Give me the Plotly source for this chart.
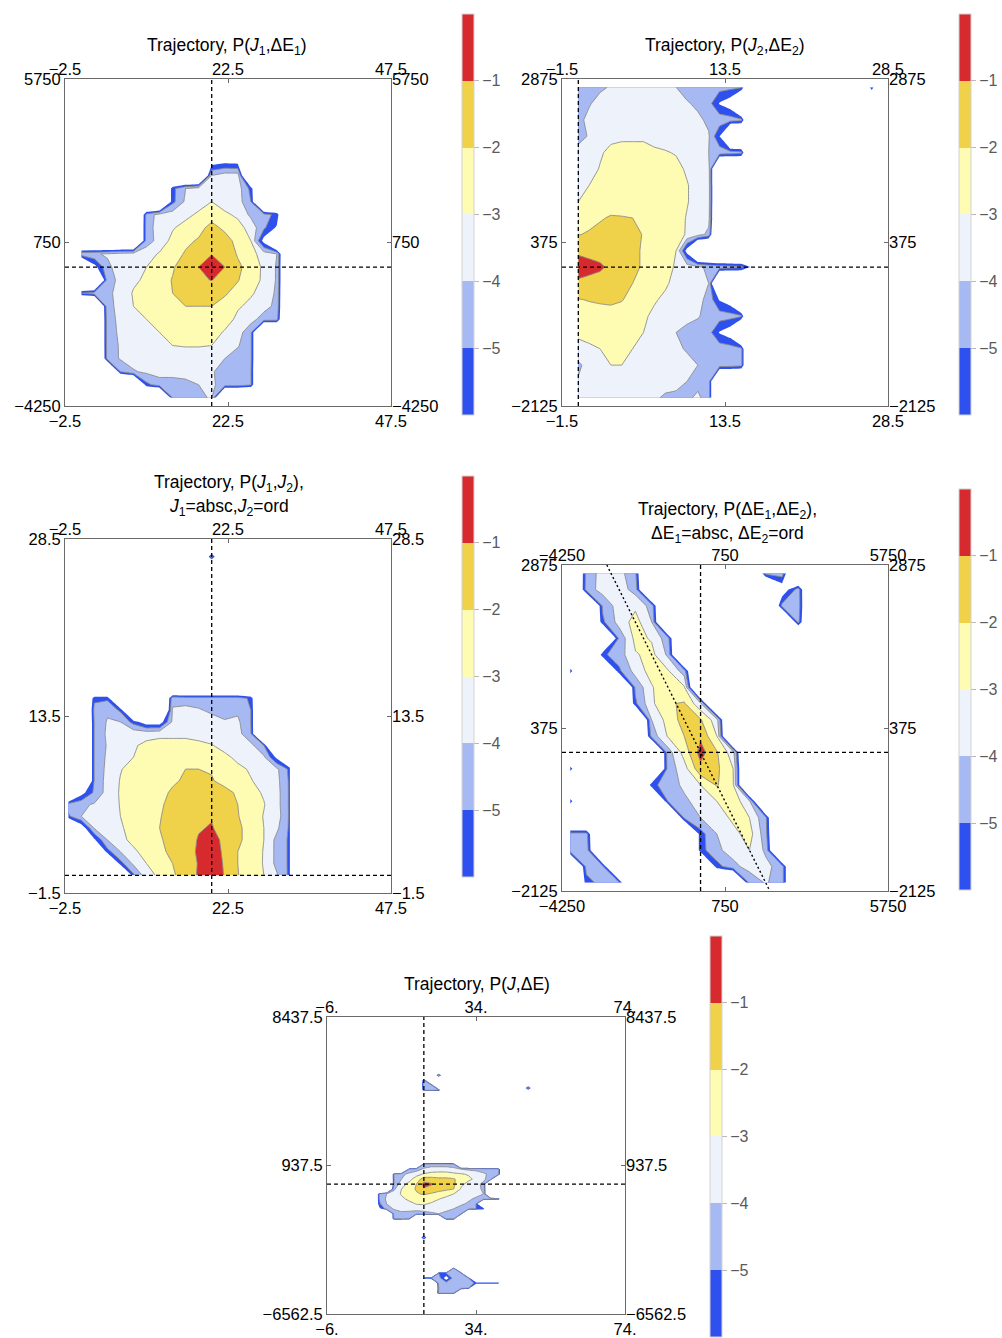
import plotly.graph_objects as go

# ------------------------------------------------------------------
# DATA  (values are -log10 P; 8 = no counts)
# ------------------------------------------------------------------
# Panel 1 : P(J1, dE1)
p1_J = [0, 2, 4, 6, 8, 10, 12, 14, 16, 18, 20, 22, 24, 26, 28, 30, 32]
p1_E = [3200, 2800, 2400, 2000, 1600, 1200, 800, 400, 0, -400, -800, -1200,
        -1600, -2000, -2400, -2800, -3200, -3600, -4000]
p1_d = [
    [8, 8, 8, 8, 8, 8, 8, 8, 8, 8, 6.5, 6.2, 6.3, 8, 8, 8, 8],
    [8, 8, 8, 8, 8, 8, 8, 8, 8, 8, 4.0, 3.5, 3.5, 8, 8, 8, 8],
    [8, 8, 8, 8, 8, 8, 8, 5.3, 4.0, 3.5, 3.5, 3.5, 3.5, 5.3, 8, 8, 8],
    [8, 8, 8, 8, 8, 8, 8, 5.3, 3.8, 3.5, 3.0, 3.5, 3.5, 5.0, 8, 8, 8],
    [8, 8, 8, 8, 8, 4.6, 3.6, 3.5, 3.3, 2.8, 2.4, 2.8, 3.2, 4.2, 4.6, 5.3, 8],
    [8, 8, 8, 8, 8, 4.5, 3.5, 3.1, 2.6, 2.3, 1.7, 2.2, 2.6, 3.4, 4.8, 6.2, 8],
    [8, 8, 8, 8, 8, 4.5, 3.6, 2.7, 2.2, 1.9, 1.3, 1.6, 2.3, 3.0, 6.5, 8, 8],
    [4.2, 4.1, 3.9, 3.6, 3.5, 3.4, 2.9, 2.4, 1.9, 1.2, 1.05, 1.3, 2.1, 2.6, 3.5, 4.0, 8],
    [8, 6.5, 4.2, 3.6, 3.3, 3.0, 2.6, 2.1, 1.5, 1.0, 0.3, 1.0, 1.8, 2.4, 3.2, 4.1, 8],
    [8, 8, 4.5, 3.7, 3.2, 2.8, 2.4, 1.95, 1.4, 1.1, 0.98, 1.3, 1.95, 2.5, 3.2, 4.1, 8],
    [5.0, 4.6, 4.2, 3.7, 2.9, 2.6, 2.2, 2.0, 1.6, 1.5, 1.5, 1.9, 2.3, 2.9, 3.3, 4.2, 8],
    [8, 8, 4.3, 3.7, 3.0, 2.7, 2.4, 2.1, 2.0, 2.0, 2.0, 2.3, 2.9, 3.2, 3.6, 4.3, 8],
    [8, 8, 4.5, 3.7, 3.4, 3.0, 2.6, 2.5, 2.4, 2.4, 2.4, 2.6, 3.2, 3.6, 4.5, 4.6, 8],
    [8, 8, 4.5, 3.8, 3.5, 3.2, 3.0, 2.8, 2.6, 2.6, 2.6, 3.1, 3.5, 4.8, 8, 8, 8],
    [8, 8, 4.5, 3.9, 3.6, 3.4, 3.1, 3.0, 2.95, 2.95, 3.0, 3.4, 3.9, 4.8, 8, 8, 8],
    [8, 8, 4.6, 3.9, 3.6, 3.5, 3.5, 3.4, 3.4, 3.4, 3.6, 4.0, 4.5, 4.8, 8, 8, 8],
    [8, 8, 8, 5.0, 4.1, 3.8, 3.6, 3.6, 3.6, 3.6, 3.9, 4.4, 4.5, 4.9, 8, 8, 8],
    [8, 8, 8, 8, 8, 5.3, 4.5, 4.5, 4.3, 4.0, 3.8, 4.5, 4.5, 4.9, 8, 8, 8],
    [8, 8, 8, 8, 8, 8, 8, 5.0, 4.5, 4.2, 3.9, 8, 8, 8, 8, 8, 8],
]

# Panel 2 : P(J2, dE2)
p2_J = [0, 1, 2, 3, 4, 5, 6, 7, 8, 9, 10, 11, 12, 13, 14, 15, 16]
p2_E = [2750, 2500, 2250, 2000, 1750, 1500, 1250, 1000, 750, 500, 250, 0,
        -250, -500, -750, -1000, -1250, -1500, -1750, -2000]
p2_d = [
    [4.5, 4.5, 4.2, 3.9, 3.5, 3.5, 3.5, 3.5, 3.5, 4.0, 4.4, 4.5, 4.6, 4.6, 4.7, 4.8, 8],
    [4.6, 4.1, 3.6, 3.5, 3.5, 3.5, 3.5, 3.5, 3.5, 3.6, 3.9, 4.2, 4.6, 6.1, 6.8, 8, 8],
    [4.3, 3.7, 3.5, 3.5, 3.5, 3.5, 3.5, 3.5, 3.5, 3.5, 3.6, 3.8, 4.2, 4.4, 4.5, 4.7, 8],
    [4.4, 3.9, 3.4, 3.2, 3.1, 3.1, 3.1, 3.2, 3.3, 3.4, 3.5, 3.6, 3.9, 6.0, 8, 8, 8],
    [3.6, 3.4, 3.1, 2.8, 2.8, 2.8, 2.8, 2.9, 2.95, 3.05, 3.4, 3.5, 4.0, 4.4, 4.5, 4.7, 8],
    [3.5, 3.3, 2.95, 2.7, 2.6, 2.6, 2.6, 2.6, 2.6, 2.8, 3.1, 3.4, 3.6, 8, 8, 8, 8],
    [3.4, 3.0, 2.7, 2.6, 2.5, 2.5, 2.5, 2.5, 2.5, 2.6, 2.95, 3.3, 3.5, 8, 8, 8, 8],
    [3.0, 2.8, 2.6, 2.5, 2.4, 2.4, 2.4, 2.4, 2.5, 2.6, 2.95, 3.3, 3.5, 8, 8, 8, 8],
    [2.5, 2.3, 2.1, 1.9, 1.95, 2.0, 2.2, 2.35, 2.5, 2.7, 3.05, 3.4, 3.6, 8, 8, 8, 8],
    [2.05, 1.9, 1.7, 1.6, 1.6, 1.75, 2.05, 2.3, 2.45, 2.6, 3.1, 3.5, 4.3, 8, 8, 8, 8],
    [1.2, 1.3, 1.4, 1.5, 1.6, 1.8, 2.1, 2.3, 2.6, 3.0, 6.5, 8, 8, 8, 8, 8, 8],
    [0.5, 0.7, 0.85, 1.2, 1.5, 1.8, 2.1, 2.4, 2.7, 3.1, 3.5, 3.8, 4.2, 4.5, 4.6, 4.8, 6.3],
    [1.2, 1.3, 1.4, 1.6, 1.75, 2.0, 2.3, 2.6, 2.85, 3.3, 3.5, 3.6, 4.0, 8, 8, 8, 8],
    [2.05, 1.95, 1.9, 1.85, 1.95, 2.3, 2.6, 2.9, 3.2, 3.5, 3.5, 3.7, 4.3, 6.1, 6.8, 8, 8],
    [2.4, 2.4, 2.3, 2.3, 2.4, 2.6, 2.85, 3.2, 3.5, 3.5, 3.6, 3.9, 4.4, 4.5, 4.6, 4.8, 8],
    [2.8, 2.6, 2.5, 2.5, 2.6, 2.8, 3.0, 3.3, 3.5, 4.0, 4.4, 4.5, 4.6, 6.1, 6.8, 8, 8],
    [3.3, 3.2, 3.0, 2.8, 2.8, 3.0, 3.3, 3.5, 3.5, 3.8, 4.1, 4.4, 4.5, 4.4, 4.5, 4.7, 8],
    [4.2, 3.6, 3.3, 3.0, 3.0, 3.3, 3.5, 3.5, 3.5, 3.5, 3.7, 4.0, 4.5, 4.4, 4.5, 4.7, 8],
    [3.9, 3.5, 3.5, 3.5, 3.5, 3.5, 3.5, 3.5, 3.5, 3.6, 4.0, 4.3, 4.5, 8, 8, 8, 8],
    [3.6, 3.5, 3.5, 3.5, 3.5, 3.5, 3.5, 3.8, 4.2, 4.3, 4.2, 3.8, 4.5, 8, 8, 8, 8],
]
p2b_J = [26, 27, 28]
p2b_E = [2750, 2500]
p2b_d = [[8, 5.0, 8], [8, 8, 8]]

# Panel 3 : P(J1, J2)
p3_J1 = [-2, 0, 2, 4, 6, 8, 10, 12, 14, 16, 18, 20, 22, 24, 26, 28, 30, 32]
p3_J2 = [16, 15, 14, 13, 12, 11, 10, 9, 8, 7, 6, 5, 4, 3, 2, 1, 0]
p3_d = [
    [8, 8, 8, 8, 8, 8, 8, 8, 8, 8, 8, 8, 8, 8, 8, 8, 8, 8],
    [8, 8, 5.2, 5.2, 8, 8, 8, 8, 4.3, 4.5, 4.5, 4.5, 4.5, 4.5, 5.2, 8, 8, 8],
    [8, 8, 4.7, 4.2, 5.2, 8, 8, 8, 3.9, 3.7, 3.9, 4.2, 4.4, 4.2, 5.0, 8, 8, 8],
    [8, 8, 4.9, 3.9, 4.0, 5.4, 6.8, 6.8, 3.8, 3.5, 3.5, 3.6, 3.9, 3.8, 5.0, 8, 8, 8],
    [8, 8, 4.9, 3.8, 3.6, 3.3, 3.3, 3.2, 3.2, 3.2, 3.3, 3.4, 3.5, 3.6, 4.9, 8, 8, 8],
    [8, 8, 4.9, 3.9, 3.5, 3.1, 2.8, 2.7, 2.7, 2.7, 2.8, 2.95, 3.3, 3.5, 3.7, 5.0, 8, 8],
    [8, 8, 4.9, 3.8, 3.4, 3.0, 2.6, 2.5, 2.4, 2.3, 2.4, 2.5, 2.8, 3.2, 3.5, 3.8, 6.3, 8],
    [8, 8, 4.9, 3.7, 3.05, 2.7, 2.4, 2.2, 2.15, 2.0, 2.0, 2.05, 2.4, 2.8, 3.1, 3.5, 3.8, 5.3],
    [8, 8, 4.9, 3.6, 2.95, 2.6, 2.4, 2.2, 2.05, 1.95, 1.9, 1.95, 2.2, 2.6, 2.95, 3.3, 3.7, 5.2],
    [8, 6.5, 4.8, 3.6, 2.9, 2.5, 2.3, 2.1, 1.95, 1.7, 1.6, 1.6, 1.8, 2.1, 2.7, 3.1, 3.6, 5.2],
    [4.5, 4.2, 3.9, 3.5, 2.95, 2.5, 2.3, 2.1, 1.8, 1.5, 1.3, 1.3, 1.6, 2.0, 2.5, 2.95, 3.6, 5.2],
    [5.2, 4.0, 3.6, 3.3, 3.0, 2.6, 2.3, 2.05, 1.7, 1.4, 1.1, 1.05, 1.4, 1.95, 2.5, 3.05, 3.5, 5.2],
    [8, 7.0, 3.9, 3.4, 3.1, 2.7, 2.4, 2.0, 1.6, 1.3, 1.05, 0.95, 1.3, 1.8, 2.4, 3.0, 3.8, 5.2],
    [8, 8, 6.2, 4.0, 3.2, 2.8, 2.5, 2.1, 1.7, 1.3, 0.95, 0.7, 1.2, 1.8, 2.4, 3.0, 4.3, 5.2],
    [8, 8, 8, 5.4, 4.0, 3.15, 2.7, 2.2, 1.8, 1.3, 0.9, 0.6, 1.15, 2.0, 2.5, 3.05, 4.3, 5.2],
    [8, 8, 8, 8, 5.4, 3.8, 3.0, 2.5, 2.0, 1.4, 0.95, 0.5, 1.1, 2.0, 2.6, 3.05, 4.3, 5.2],
    [8, 8, 8, 8, 8, 5.2, 3.4, 2.8, 2.15, 1.5, 0.9, 0.5, 1.05, 1.95, 2.6, 3.0, 3.9, 5.3],
]
p3b_J1 = [18, 20, 22]
p3b_J2 = [28, 27, 26]
p3b_d = [[8, 8, 8], [8, 4.5, 8], [8, 8, 8]]

# Panel 4 : P(dE1, dE2)
p4_E1 = [-4000, -3500, -3000, -2500, -2000, -1500, -1000, -500, 0, 500, 1000,
         1500, 2000, 2500, 3000, 3500]
p4_E2 = [2750, 2500, 2250, 2000, 1750, 1500, 1250, 1000, 750, 500, 250, 0,
         -250, -500, -750, -1000, -1250, -1500, -1750, -2000]
p4_d = [
    [8, 4.6, 3.6, 3.6, 4.8, 8, 8, 8, 8, 8, 8, 8, 4.6, 4.4, 8, 8],
    [8, 4.5, 3.6, 3.5, 4.4, 8, 8, 8, 8, 8, 8, 8, 8, 7.0, 4.5, 8],
    [8, 8, 4.8, 3.5, 3.2, 4.4, 8, 8, 8, 8, 8, 8, 8, 4.7, 4.4, 8],
    [8, 8, 5.2, 3.6, 2.6, 4.0, 8, 8, 8, 8, 8, 8, 8, 8, 4.7, 8],
    [8, 8, 8, 4.8, 2.7, 3.1, 4.6, 8, 8, 8, 8, 8, 8, 8, 8, 8],
    [8, 8, 5.2, 4.5, 3.1, 2.7, 4.2, 8, 8, 8, 8, 8, 8, 8, 8, 8],
    [5.2, 8, 8, 5.2, 3.6, 2.6, 2.9, 4.5, 8, 8, 8, 8, 8, 8, 8, 8],
    [8, 8, 8, 8, 4.8, 3.1, 2.2, 2.9, 8, 8, 8, 8, 8, 8, 8, 8],
    [8, 8, 8, 8, 5.2, 3.2, 2.1, 1.9, 3.8, 8, 8, 8, 8, 8, 8, 8],
    [8, 8, 8, 8, 8, 4.0, 2.6, 1.6, 1.9, 3.6, 8, 8, 8, 8, 8, 8],
    [8, 8, 8, 8, 8, 4.6, 2.9, 2.0, 1.2, 3.0, 8, 8, 8, 8, 8, 8],
    [8, 8, 8, 8, 8, 8, 4.5, 2.6, 0.6, 1.9, 3.6, 8, 8, 8, 8, 8],
    [5.2, 8, 8, 8, 8, 8, 4.6, 3.4, 1.3, 1.8, 3.0, 8, 8, 8, 8, 8],
    [8, 8, 8, 8, 8, 5.3, 4.5, 3.8, 3.0, 1.9, 2.9, 8, 8, 8, 8, 8],
    [5.2, 8, 8, 8, 8, 8, 5.0, 4.2, 3.6, 3.0, 2.4, 3.8, 8, 8, 8, 8],
    [8, 8, 8, 8, 8, 8, 8, 4.8, 4.0, 3.5, 2.8, 3.0, 4.8, 8, 8, 8],
    [4.6, 4.6, 8, 8, 8, 8, 8, 8, 5.4, 4.0, 3.3, 2.6, 4.6, 8, 8, 8],
    [4.4, 4.3, 8, 8, 8, 8, 8, 8, 5.4, 4.2, 3.6, 3.0, 4.2, 8, 8, 8],
    [8, 4.6, 4.8, 8, 8, 8, 8, 8, 8, 5.4, 4.3, 3.6, 3.7, 4.5, 8, 8],
    [8, 5.4, 4.6, 4.8, 8, 8, 8, 8, 8, 8, 8, 4.8, 3.9, 4.5, 8, 8],
]

# Panel 5 : P(J, dE)
p5_J = [6, 8, 10, 12, 14, 16, 18, 20, 22, 24, 26, 28, 30, 32, 34, 36, 38, 40, 42]
p5_E = [1250, 1000, 750, 500, 250, 0, -250, -500, -750, -1000, -1250, -1500,
        -1750, -2000]
p5_d = [
    [8, 8, 8, 8, 8, 8, 8, 8, 8, 8, 8, 8, 8, 8, 8, 8, 8, 8, 8],
    [8, 8, 8, 8, 8, 8, 8, 4.8, 4.5, 4.5, 4.5, 4.8, 8, 8, 8, 8, 8, 8, 8],
    [8, 8, 8, 8, 8, 5.0, 4.5, 3.8, 3.5, 3.5, 3.5, 3.6, 4.0, 4.2, 4.3, 4.5, 4.5, 4.6, 8],
    [8, 8, 8, 4.9, 4.3, 3.7, 3.3, 2.9, 2.7, 2.6, 2.6, 2.8, 2.9, 3.1, 3.4, 3.8, 4.3, 4.6, 8],
    [8, 8, 8, 5.0, 4.0, 3.3, 2.6, 1.5, 1.6, 1.8, 1.8, 1.9, 2.4, 2.8, 3.2, 3.7, 4.8, 8, 8],
    [8, 8, 8, 5.0, 3.3, 2.8, 2.0, 0.7, 0.9, 1.5, 1.6, 1.8, 2.8, 3.3, 3.6, 4.3, 8, 8, 8],
    [8, 8, 8, 4.2, 3.0, 2.4, 1.9, 1.1, 1.4, 1.7, 1.8, 2.0, 3.1, 3.5, 3.6, 4.2, 8, 8, 8],
    [8, 5.0, 4.0, 3.5, 2.9, 2.5, 2.1, 1.9, 2.1, 2.3, 2.6, 3.0, 3.4, 3.6, 3.6, 4.0, 8, 8, 8],
    [8, 5.0, 3.8, 3.5, 3.2, 2.8, 2.6, 2.5, 2.7, 2.95, 3.3, 3.5, 3.6, 3.8, 4.2, 4.5, 4.6, 5.0, 8],
    [8, 5.2, 4.0, 3.6, 3.5, 3.3, 2.95, 2.9, 3.1, 3.4, 3.5, 3.6, 3.8, 4.2, 5.0, 8, 8, 8, 8],
    [8, 6.5, 4.5, 3.9, 3.6, 3.5, 3.5, 3.5, 3.5, 3.6, 3.8, 4.0, 4.5, 4.8, 5.0, 5.2, 8, 8, 8],
    [8, 8, 8, 4.6, 4.3, 4.5, 4.8, 4.5, 4.2, 4.0, 4.2, 4.5, 5.0, 8, 8, 8, 8, 8, 8],
    [8, 8, 8, 4.8, 4.7, 4.9, 8, 8, 8, 8, 4.7, 4.8, 8, 8, 8, 8, 8, 8, 8],
    [8, 8, 8, 8, 8, 8, 8, 8, 8, 8, 8, 8, 8, 8, 8, 8, 8, 8, 8],
]
p5t_J = [18, 20, 22, 24, 26]
p5t_E = [5750, 5500, 5250, 5000, 4750, 4500]
p5t_d = [
    [8, 8, 8, 8, 8],
    [8, 8, 8, 3.8, 8],
    [8, 4.9, 8, 8, 8],
    [8, 4.3, 4.8, 8, 8],
    [8, 4.8, 4.6, 4.9, 8],
    [8, 8, 8, 8, 8],
]
p5r_J = [45, 48, 51]
p5r_E = [5250, 4850, 4450]
p5r_d = [[8, 8, 8], [8, 4.5, 8], [8, 8, 8]]
p5m_J = [17, 20, 23]
p5m_E = [-2250, -2700, -3150]
p5m_d = [[8, 8, 8], [8, 4.5, 8], [8, 8, 8]]
p5b_J = [18, 20, 22, 24, 26, 28, 30, 32, 34, 36, 38, 40, 42]
p5b_E = [-4000, -4250, -4500, -4750, -5000, -5250, -5500, -5750]
p5b_d = [
    [8, 8, 8, 8, 8, 8, 8, 8, 8, 8, 8, 8, 8],
    [8, 8, 8, 8, 8, 5.0, 8, 8, 8, 8, 8, 8, 8],
    [8, 8, 8, 5.0, 5.0, 4.4, 4.9, 8, 8, 8, 8, 8, 8],
    [8, 5.2, 5.0, 4.4, 6.8, 4.5, 4.6, 5.0, 8, 8, 8, 8, 8],
    [8, 8, 8, 4.6, 4.6, 4.4, 4.3, 4.5, 5.2, 5.2, 5.2, 5.2, 8],
    [8, 8, 8, 5.0, 4.5, 4.4, 4.5, 4.9, 8, 8, 8, 8, 8],
    [8, 8, 8, 4.7, 4.5, 4.7, 8, 8, 8, 8, 8, 8, 8],
    [8, 8, 8, 8, 8, 8, 8, 8, 8, 8, 8, 8, 8],
]

# axes ranges and tick labels
panels = [
    dict(xr=[-2.5, 47.5], yr=[-4250, 5750], xt=["−2.5", "22.5", "47.5"], yt=["−4250", "750", "5750"]),
    dict(xr=[-1.5, 28.5], yr=[-2125, 2875], xt=["−1.5", "13.5", "28.5"], yt=["−2125", "375", "2875"]),
    dict(xr=[-2.5, 47.5], yr=[-1.5, 28.5], xt=["−2.5", "22.5", "47.5"], yt=["−1.5", "13.5", "28.5"]),
    dict(xr=[-4250, 5750], yr=[-2125, 2875], xt=["−4250", "750", "5750"], yt=["−2125", "375", "2875"]),
    dict(xr=[-6, 74], yr=[-6562.5, 8437.5], xt=["−6.", "34.", "74."], yt=["−6562.5", "937.5", "8437.5"]),
]
# reference (dashed) lines : (x value, y value)
ref_lines = [(20, 0), (0, 0), (20, 0), (0, 0), (20, 0)]
titles = [
    ["Trajectory, P(<i>J</i><sub>1</sub>,ΔE<sub>1</sub>)"],
    ["Trajectory, P(<i>J</i><sub>2</sub>,ΔE<sub>2</sub>)"],
    ["Trajectory, P(<i>J</i><sub>1</sub>,<i>J</i><sub>2</sub>),",
     "<i>J</i><sub>1</sub>=absc,<i>J</i><sub>2</sub>=ord"],
    ["Trajectory, P(ΔE<sub>1</sub>,ΔE<sub>2</sub>),",
     "ΔE<sub>1</sub>=absc, ΔE<sub>2</sub>=ord"],
    ["Trajectory, P(<i>J</i>,ΔE)"],
]

# ------------------------------------------------------------------
# STYLE / LAYOUT
# ------------------------------------------------------------------
W, H = 1002, 1338
FONT = "Liberation Sans, Arial, sans-serif"
FRAME = "#6a6a6a"
NO_COUNT = 11.0          # -log10 level used where a cell has no counts (8 in tables)
RED, GOLD, LYEL = "#d62a2f", "#f0d14a", "#fefbb3"
PALE, LBLUE, BLUE = "#eef3fb", "#a7b9f2", "#2e50ee"

FILL_SCALE = [[0, "rgba(255,255,255,0)"], [1 / 6, BLUE], [2 / 6, LBLUE],
              [3 / 6, PALE], [4 / 6, LYEL], [5 / 6, GOLD], [1, RED]]
BAR_COLORS = [BLUE, LBLUE, PALE, LYEL, GOLD, RED]
BAR_SCALE = []
for k, c in enumerate(BAR_COLORS):
    BAR_SCALE += [[k / 6, c], [(k + 1) / 6, c]]

# pixel boxes: (left, top, right, bottom)
plot_px = [(65, 79, 391, 406), (562, 79, 888, 406), (65, 539, 391, 893),
           (562, 565, 888, 891), (327, 1017, 625, 1314)]
cbar_px = [(462, 14, 415), (959, 14, 415), (462, 476, 877), (959, 489, 890),
           (710, 936, 1337)]
title_px = [(227, [47]), (725, [47]), (229, [483, 507]), (727, [510, 534]),
            (477, [984])]


def px(xp):
    return xp / W


def py(yp):
    return 1 - yp / H


fig = go.Figure()


def ax_names(i):
    return ("x" if i == 1 else f"x{i}"), ("y" if i == 1 else f"y{i}")


def add_field(i, xs, ys, d):
    xa, ya = ax_names(i)
    ys_a = list(reversed(ys))
    z = [[-(NO_COUNT if v >= 8 else v) for v in row] for row in reversed(d)]
    fig.add_trace(go.Contour(
        x=xs, y=ys_a, z=z, xaxis=xa, yaxis=ya, autocontour=False,
        contours=dict(start=-6, end=-1, size=1, coloring="fill", showlines=False),
        colorscale=FILL_SCALE, showscale=False,
        line=dict(width=0, smoothing=0), hoverinfo="skip"))
    fig.add_trace(go.Contour(
        x=xs, y=ys_a, z=z, xaxis=xa, yaxis=ya, autocontour=False,
        contours=dict(start=-5, end=-1, size=1, coloring="none"),
        line=dict(color="#8a8a8a", width=0.9, smoothing=0),
        showscale=False, hoverinfo="skip"))


add_field(1, p1_J, p1_E, p1_d)
add_field(2, p2_J, p2_E, p2_d)
add_field(2, p2b_J, p2b_E, p2b_d)
add_field(3, p3_J1, p3_J2, p3_d)
add_field(3, p3b_J1, p3b_J2, p3b_d)
add_field(4, p4_E1, p4_E2, p4_d)
add_field(5, p5_J, p5_E, p5_d)
add_field(5, p5t_J, p5t_E, p5t_d)
add_field(5, p5r_J, p5r_E, p5r_d)
add_field(5, p5m_J, p5m_E, p5m_d)
add_field(5, p5b_J, p5b_E, p5b_d)

layout = dict(width=W, height=H,
              margin=dict(l=0, r=0, t=0, b=0, pad=0, autoexpand=False),
              paper_bgcolor="white", plot_bgcolor="white", showlegend=False,
              font=dict(family=FONT, size=16, color="black"))
shapes, annots = [], []
tickfont = dict(family=FONT, size=16.5, color="black")

for idx, p in enumerate(panels):
    i = idx + 1
    xa, ya = ax_names(i)
    l, t, r, b = plot_px[idx]
    xr, yr = p["xr"], p["yr"]
    xv = [xr[0], (xr[0] + xr[1]) / 2, xr[1]]
    yv = [yr[0], (yr[0] + yr[1]) / 2, yr[1]]
    base = dict(showgrid=False, zeroline=False, tickmode="array",
                tickfont=tickfont, fixedrange=True, automargin=False)
    layout["xaxis" if i == 1 else f"xaxis{i}"] = dict(
        domain=[px(l), px(r)], range=xr, anchor=ya, tickvals=xv, ticktext=p["xt"],
        ticks="inside", ticklen=4, tickwidth=1, tickcolor=FRAME,
        showline=True, linecolor=FRAME, linewidth=1, mirror="ticks", **base)
    layout["yaxis" if i == 1 else f"yaxis{i}"] = dict(
        domain=[py(b), py(t)], range=yr, anchor=xa, tickvals=yv, ticktext=p["yt"],
        ticks="inside", ticklen=4, tickwidth=1, tickcolor=FRAME,
        showline=True, linecolor=FRAME, linewidth=1, mirror="ticks", **base)
    # label-only axes on top and right
    j = i + 5
    layout[f"xaxis{j}"] = dict(overlaying=xa, side="top", range=xr, anchor=ya,
                               tickvals=xv, ticktext=p["xt"], ticks="",
                               showline=False, **base)
    layout[f"yaxis{j}"] = dict(overlaying=ya, side="right", range=yr, anchor=xa,
                               tickvals=yv, ticktext=p["yt"], ticks="",
                               showline=False, **base)
    fig.add_trace(go.Scatter(x=[xv[1]], y=[yv[1]], xaxis=f"x{j}", yaxis=ya,
                             mode="markers", marker=dict(opacity=0, size=1),
                             hoverinfo="skip"))
    fig.add_trace(go.Scatter(x=[xv[1]], y=[yv[1]], xaxis=xa, yaxis=f"y{j}",
                             mode="markers", marker=dict(opacity=0, size=1),
                             hoverinfo="skip"))

    # dashed reference lines
    rx, ry = ref_lines[idx]
    dash = dict(color="black", width=1.3, dash="4px,3px")
    shapes.append(dict(type="line", xref=xa, yref=ya, x0=rx, x1=rx, y0=yr[0], y1=yr[1],
                       line=dash, layer="above"))
    shapes.append(dict(type="line", xref=xa, yref=ya, x0=xr[0], x1=xr[1], y0=ry, y1=ry,
                       line=dash, layer="above"))

    # colour bar
    cx, ct, cb = cbar_px[idx]
    fig.add_trace(go.Scatter(
        x=[xv[1]], y=[yv[1]], xaxis=xa, yaxis=ya, mode="markers",
        marker=dict(size=1, opacity=0, color=[-3], cmin=-6, cmax=0,
                    colorscale=BAR_SCALE, showscale=True,
                    colorbar=dict(x=px(cx), xanchor="left", xpad=0,
                                  y=py((ct + cb) / 2), yanchor="middle", ypad=0,
                                  len=cb - ct, lenmode="pixels", thickness=12,
                                  thicknessmode="pixels", outlinewidth=1,
                                  outlinecolor="#d2d2d2", tickmode="array",
                                  tickvals=[-5, -4, -3, -2, -1], ticks="outside",
                                  ticklen=5, tickwidth=1, tickcolor="#b8b8b8",
                                  tickfont=dict(family=FONT, size=16, color="#5a5a5a"))),
        hoverinfo="skip"))

    # titles
    tx, tys = title_px[idx]
    for line_txt, typ in zip(titles[idx], tys):
        annots.append(dict(text=line_txt, x=px(tx), y=py(typ), xref="paper", yref="paper",
                           xanchor="center", yanchor="middle", showarrow=False,
                           font=dict(family=FONT, size=17.5, color="black")))

# diagonal dotted line dE2 = -dE1 in panel 4
shapes.append(dict(type="line", xref="x4", yref="y4", x0=-2875, y0=2875, x1=2125, y1=-2125,
                   line=dict(color="black", width=1.4, dash="2px,2.5px"), layer="above"))

layout["shapes"] = shapes
layout["annotations"] = annots
fig.update_layout(**layout)
fig.write_html("out.html")
